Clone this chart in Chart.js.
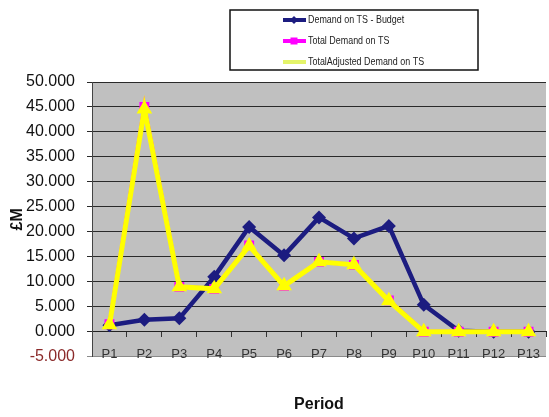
<!DOCTYPE html>
<html>
<head>
<meta charset="utf-8">
<script src="https://cdn.jsdelivr.net/npm/chart.js@4/dist/chart.umd.min.js"></script>
<style>
  html, body { margin: 0; padding: 0; background: #fff; }
  #wrap { width: 549px; height: 417px; }
</style>
</head>
<body>
<div id="wrap"><canvas id="demandChart" width="549" height="417"></canvas></div>
<script>
// periods P1..P13, values in £M
const periods = ['P1', 'P2', 'P3', 'P4', 'P5', 'P6', 'P7', 'P8', 'P9', 'P10', 'P11', 'P12', 'P13'];
const budgetDemand = [1.3, 2.4, 2.7, 11.0, 21.0, 15.3, 22.9, 18.7, 21.2, 5.4, 0.2, 0.0, 0.0];
const totalDemand = [1.5, 45.0, 9.0, 8.6, 17.3, 9.2, 14.0, 13.4, 6.3, 0.0, 0.0, 0.0, 0.0];
const adjustedDemand = [1.4, 44.6, 9.0, 8.6, 17.2, 9.2, 14.0, 13.4, 6.2, 0.0, 0.0, 0.0, 0.0];
const yTicks = { min: -5, max: 50, step: 5 };

const sans = "'Liberation Sans', Arial, sans-serif";

// grey plot background
const plotBg = {
    id: 'plotBg',
    beforeDraw(chart) {
        const a = chart.chartArea, c = chart.ctx;
        c.save();
        c.fillStyle = '#c0c0c0';
        c.fillRect(a.left, a.top, a.right - a.left, a.bottom - a.top);
        c.restore();
    }
};

// boxed legend like the spreadsheet one
const boxLegend = {
    id: 'boxLegend',
    afterDraw(chart) {
        const c = chart.ctx;
        const x = 230, y = 10, w = 248, h = 60;
        c.save();
        c.fillStyle = '#fff';
        c.fillRect(x, y, w, h);
        c.strokeStyle = '#111';
        c.lineWidth = 1.5;
        c.strokeRect(x, y, w, h);
        chart.data.datasets.forEach((ds, i) => {
            const ry = 20 + i * 21;
            c.strokeStyle = ds.legendColor || ds.borderColor;
            c.lineWidth = 4;
            c.beginPath();
            c.moveTo(283, ry);
            c.lineTo(306, ry);
            c.stroke();
            if (ds.legendMarker) {
                c.fillStyle = ds.borderColor;
                c.beginPath();
                if (ds.pointStyle === 'rectRot') {
                    c.moveTo(294, ry - 4); c.lineTo(298, ry); c.lineTo(294, ry + 4); c.lineTo(290, ry);
                } else {
                    c.rect(290.5, ry - 3.5, 7, 7);
                }
                c.closePath();
                c.fill();
            }
            // condensed text, the original uses a narrow face
            c.save();
            c.translate(308, ry);
            c.scale(0.85, 1);
            c.fillStyle = '#222';
            c.font = '10.5px ' + sans;
            c.textBaseline = 'middle';
            c.fillText(ds.label, 0, 0);
            c.restore();
        });
        c.restore();
    }
};

const ctx = document.getElementById('demandChart').getContext('2d');
const chart = new Chart(ctx, {
    type: 'line',
    data: {
        labels: periods,
        datasets: [{
            label: 'Demand on TS - Budget',
            data: budgetDemand,
            borderColor: '#1c1c80',
            backgroundColor: '#1c1c80',
            borderWidth: 4.5,
            pointStyle: 'rectRot',
            pointRadius: 7,
            pointBorderWidth: 0,
            legendMarker: true,
            order: 2,
            tension: 0
        }, {
            label: 'Total Demand on TS',
            data: totalDemand,
            borderColor: '#ff00ff',
            backgroundColor: '#ff00ff',
            borderWidth: 4,
            pointStyle: 'rect',
            pointRadius: 7,
            pointBorderWidth: 0,
            legendMarker: true,
            order: 1,
            tension: 0
        }, {
            label: 'TotalAdjusted Demand on TS',
            data: adjustedDemand,
            borderColor: '#ffff00',
            backgroundColor: '#ffff00',
            legendColor: '#e4f46a',
            borderWidth: 5,
            pointStyle: 'triangle',
            pointRadius: 9,
            pointBorderWidth: 0,
            order: 0,
            tension: 0
        }]
    },
    options: {
        responsive: false,
        animation: false,
        layout: { autoPadding: false, padding: { top: 82, right: 3, left: 0, bottom: 0 } },
        plugins: {
            legend: { display: false },
            tooltip: { enabled: false },
            title: {
                display: true,
                text: 'Period',
                position: 'bottom',
                fullSize: false,
                color: '#111',
                font: { family: sans, size: 16, weight: 'bold' },
                padding: { top: 38, bottom: 3 }
            }
        },
        scales: {
            x: {
                position: { y: 0 },
                offset: true,
                afterFit(scale) { scale.paddingLeft = 0; scale.paddingRight = 0; },
                grid: {
                    drawOnChartArea: false,
                    tickLength: 5,
                    color: '#333',
                    offset: true
                },
                border: { display: true, color: '#222', width: 1 },
                ticks: {
                    color: '#333',
                    font: { family: sans, size: 13 },
                    padding: 10,
                    maxRotation: 0,
                    autoSkip: false
                }
            },
            y: {
                min: yTicks.min,
                max: yTicks.max,
                afterFit(scale) { scale.width = 92; },
                title: {
                    display: true,
                    text: '£M',
                    color: '#111',
                    font: { family: sans, size: 16, weight: 'bold' },
                    padding: { top: 8, bottom: 0 }
                },
                grid: {
                    color: c => (c.tick && c.tick.value === yTicks.min) ? '#8a8a8a' : '#2a2a2a',
                    lineWidth: 1,
                    tickLength: 5
                },
                border: { display: true, color: '#444', width: 1 },
                ticks: {
                    stepSize: yTicks.step,
                    padding: 12,
                    color: c => c.tick.value < 0 ? '#8b2a2a' : '#111',
                    font: { family: sans, size: 16 },
                    callback: v => v.toFixed(3)
                }
            }
        }
    },
    plugins: [plotBg, boxLegend]
});
</script>
</body>
</html>
